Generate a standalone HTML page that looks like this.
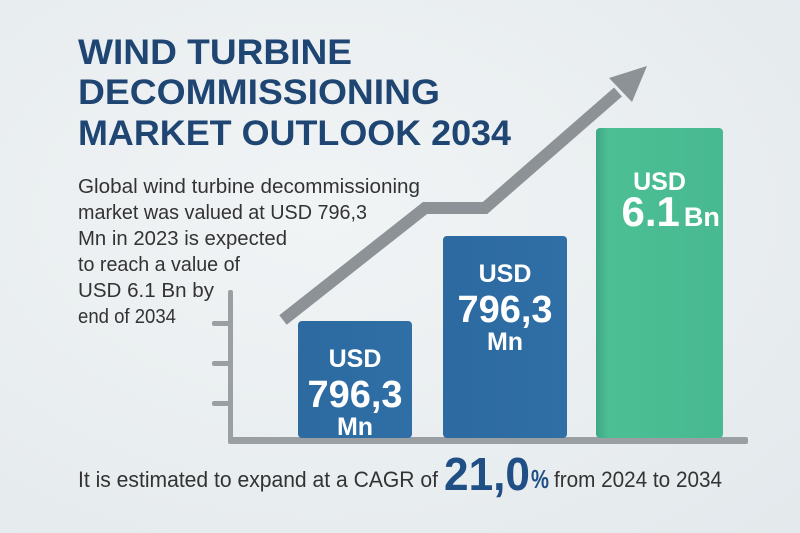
<!DOCTYPE html>
<html><head><meta charset="utf-8"><style>
html,body{margin:0;padding:0;width:800px;height:533px;overflow:hidden;}
body{background:radial-gradient(ellipse at 40% 40%,#f1f4f5 0%,#e3e9ec 100%);font-family:"Liberation Sans",sans-serif;}
svg{display:block}
</style></head><body>
<svg id="chart" width="800" height="533" viewBox="0 0 800 533" xmlns="http://www.w3.org/2000/svg">
<defs>
<linearGradient id="gb" x1="0" x2="1"><stop offset="0" stop-color="#2c6aa0"/><stop offset="1" stop-color="#2f6fa6"/></linearGradient>
<linearGradient id="gg" x1="0" x2="1"><stop offset="0" stop-color="#3fa785"/><stop offset="0.1" stop-color="#4cbf95"/><stop offset="1" stop-color="#48b990"/></linearGradient>
</defs>
<g font-weight="bold" fill="#1f4573" font-size="35">
<text x="78" y="64" textLength="274" lengthAdjust="spacingAndGlyphs">WIND TURBINE</text>
<text x="78" y="104" textLength="362" lengthAdjust="spacingAndGlyphs">DECOMMISSIONING</text>
<text x="78" y="145" textLength="433" lengthAdjust="spacingAndGlyphs">MARKET OUTLOOK 2034</text>
</g>
<g fill="#333" font-size="20">
<text x="78" y="193" textLength="342" lengthAdjust="spacingAndGlyphs">Global wind turbine decommissioning</text>
<text x="78" y="219" textLength="289" lengthAdjust="spacingAndGlyphs">market was valued at USD 796,3</text>
<text x="78" y="245" textLength="209" lengthAdjust="spacingAndGlyphs">Mn in 2023 is expected</text>
<text x="78" y="271" textLength="162" lengthAdjust="spacingAndGlyphs">to reach a value of</text>
<text x="78" y="297" textLength="136" lengthAdjust="spacingAndGlyphs">USD 6.1 Bn by</text>
<text x="78" y="323" textLength="98" lengthAdjust="spacingAndGlyphs">end of 2034</text>
</g>
<g fill="#9a9fa3">
<rect x="228" y="290" width="5" height="152" rx="2"/>
<rect x="212" y="321" width="18" height="5" rx="2"/>
<rect x="212" y="361" width="18" height="5" rx="2"/>
<rect x="212" y="401" width="18" height="5" rx="2"/>
<rect x="228" y="437" width="520" height="7" rx="2"/>
</g>
<g id="bars"></g>
<path d="M283 320 L425 208 L485 208 L618 92" fill="none" stroke="#8c9296" stroke-width="12" stroke-linejoin="miter"/>
<polygon points="647,66 609,78 632,102" fill="#8c9296"/>
<g fill="#333">
<text x="78" y="487" font-size="22" textLength="360" lengthAdjust="spacingAndGlyphs">It is estimated to expand at a CAGR of</text>
<text x="444" y="490" font-size="46" font-weight="bold" fill="#1f4f85" textLength="86" lengthAdjust="spacingAndGlyphs">21,0</text>
<text x="531" y="488" font-size="26" font-weight="bold" fill="#1f4f85" textLength="18" lengthAdjust="spacingAndGlyphs">%</text>
<text x="554" y="487" font-size="22" textLength="168" lengthAdjust="spacingAndGlyphs">from 2024 to 2034</text>
</g>
</svg>
<script>
const categories=["2023","2024","2034"];
const values=[117,202,310];
const labelTop=["USD","USD","USD"];
const labelMain=["796,3","796,3","6.1"];
const labelUnit=["Mn","Mn","Bn"];
const baseY=438, scale=1;
const xs=[298,443,596], ws=[114,124,127];
function yOf(v){return baseY-v*scale;}
const g=document.getElementById('bars');
const NS="http://www.w3.org/2000/svg";
values.forEach((v,i)=>{
  const r=document.createElementNS(NS,'rect');
  
  
  r.setAttribute('x',xs[i]);r.setAttribute('y',yOf(v));
  r.setAttribute('width',ws[i]);r.setAttribute('height',baseY-yOf(v));
  r.setAttribute('rx',4);
  r.setAttribute('fill',i==2?'url(#gg)':'url(#gb)');
  g.appendChild(r);
  const cx=xs[i]+ws[i]/2, top=yOf(v);
  const t=document.createElementNS(NS,'text');
  
  
  t.setAttribute('fill','#fff');
  t.setAttribute('font-weight','bold');
  if(i<2){
    t.setAttribute('text-anchor','middle');
    t.innerHTML=`<tspan x="${cx}" y="${top+46}" font-size="25">${labelTop[i]}</tspan><tspan x="${cx}" y="${top+86}" font-size="38">${labelMain[i]}</tspan><tspan x="${cx}" y="${top+114}" font-size="25">${labelUnit[i]}</tspan>`;
  } else {
    t.innerHTML=`<tspan x="${cx}" y="${top+62}" font-size="25" text-anchor="middle">${labelTop[i]}</tspan><tspan x="${cx-38}" y="${top+98}" font-size="42">${labelMain[i]}</tspan><tspan font-size="27" dx="4">${labelUnit[i]}</tspan>`;
  }
  g.appendChild(t);
});
</script>
</body></html>
